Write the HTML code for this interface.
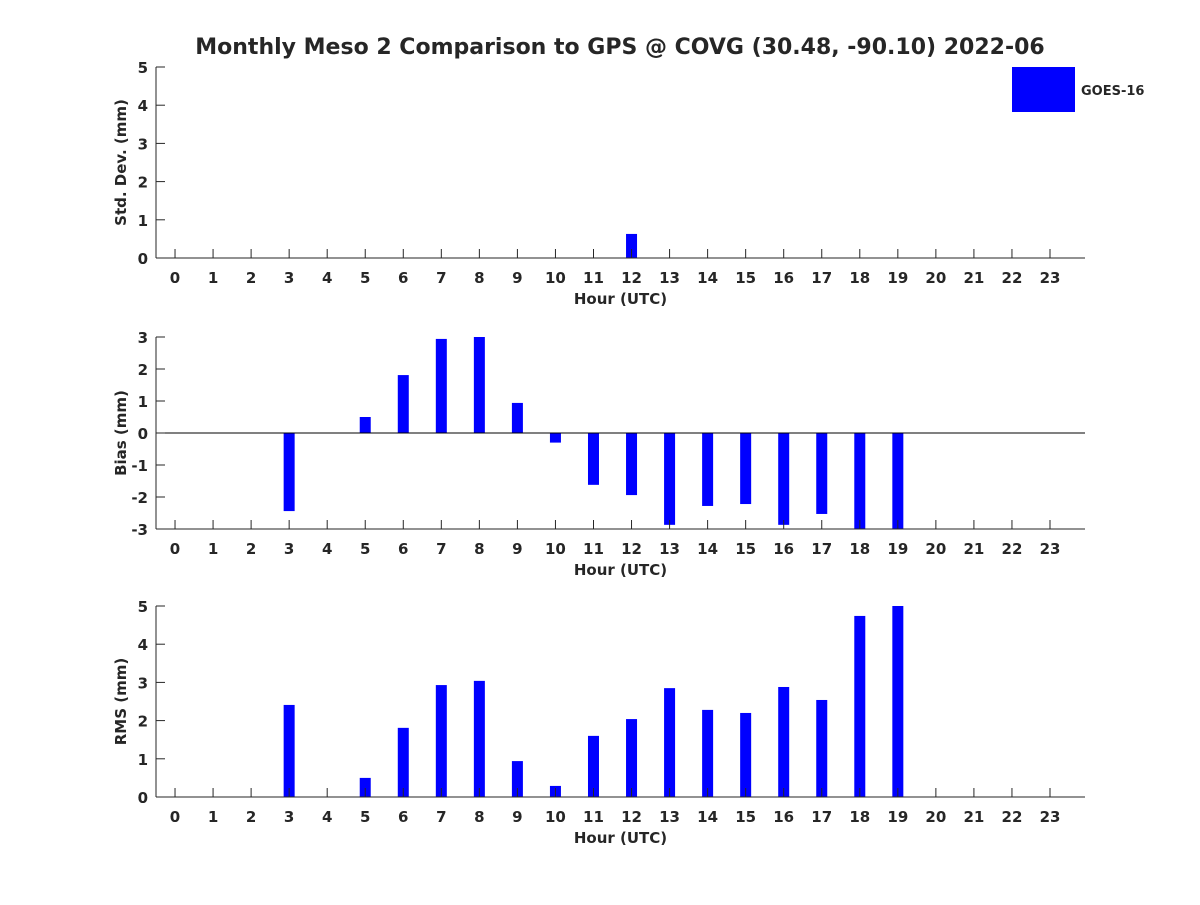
<!DOCTYPE html>
<html><head><meta charset="utf-8"><style>
body{margin:0;background:#fff}
svg text{font-family:"DejaVu Sans","Liberation Sans",sans-serif;font-weight:bold;fill:#262626}
</style></head><body>
<svg id="c" width="1200" height="900" xmlns="http://www.w3.org/2000/svg">
<text x="620" y="54" font-size="22" text-anchor="middle" fill="#000">Monthly Meso 2 Comparison to GPS @ COVG (30.48, -90.10) 2022-06</text>
<rect x="1012" y="67" width="63" height="45" fill="#0000ff"/>
<text x="1081" y="95" font-size="13" fill="#000">GOES-16</text>
</svg>
<script>
const hours = [0,1,2,3,4,5,6,7,8,9,10,11,12,13,14,15,16,17,18,19,20,21,22,23];
const stdValues = [null,null,null,null,null,null,null,null,null,null,null,null,0.63,null,null,null,null,null,null,null,null,null,null,null];
const biasValues = [null,null,null,-2.44,null,0.5,1.81,2.94,3.0,0.94,-0.3,-1.62,-1.94,-2.87,-2.28,-2.22,-2.87,-2.53,-4.74,-5.0,null,null,null,null];
const rmsValues = [null,null,null,2.41,null,0.5,1.81,2.93,3.04,0.94,0.29,1.6,2.04,2.85,2.28,2.2,2.88,2.54,4.74,5.0,null,null,null,null];
const stdTicks = [0,1,2,3,4,5];
const biasTicks = [-3,-2,-1,0,1,2,3];
const rmsTicks = [0,1,2,3,4,5];

const NS='http://www.w3.org/2000/svg';
const svg=document.getElementById('c');
function mk(tag,attrs,parent){const e=document.createElementNS(NS,tag);for(const k in attrs)e.setAttribute(k,attrs[k]);(parent||svg).appendChild(e);return e;}
const L=156,R=1085,xMin=-0.5,xMax=23.92;
function xs(h){return L+(h-xMin)/(xMax-xMin)*(R-L);}
function panel(name,top,bottom,yMin,yMax,ticks,vals,ylabel){
  const g=mk('g',{});
  
  
  const ys=v=>bottom-(v-yMin)/(yMax-yMin)*(bottom-top);
  const clip=v=>Math.max(yMin,Math.min(yMax,v));
  const base=ys(clip(0));
  vals.forEach((v,i)=>{
    if(v===null)return;
    const y=ys(clip(v));
    const r=mk('rect',{x:xs(hours[i])-5.5,y:Math.min(y,base),width:11,height:Math.abs(base-y),fill:'#0000ff'},g);
    
    
  });
  if(yMin<0){const z=mk('line',{x1:L,x2:R,y1:base,y2:base,stroke:'#000','stroke-width':1},g);
    }
  mk('line',{x1:L,x2:L,y1:top,y2:bottom,stroke:'#262626'},g);
  mk('line',{x1:L,x2:R,y1:bottom,y2:bottom,stroke:'#262626'},g);
  ticks.forEach(t=>{
    const y=ys(t);
    mk('line',{x1:L,x2:L+9,y1:y,y2:y,stroke:'#262626'},g);
    const tx=mk('text',{x:L-8,y:y+6,'font-size':15,'text-anchor':'end'},g);tx.textContent=t;
    
  });
  hours.forEach(h=>{
    const x=xs(h);
    mk('line',{x1:x,x2:x,y1:bottom,y2:bottom-9,stroke:'#262626'},g);
    const tx=mk('text',{x:x,y:bottom+25,'font-size':15,'text-anchor':'middle'},g);tx.textContent=h;
    
  });
  const xl=mk('text',{x:(L+R)/2,y:bottom+46,'font-size':15,'text-anchor':'middle'},g);xl.textContent='Hour (UTC)';
  
  const cy=(top+bottom)/2;
  const yl=mk('text',{x:126,y:cy,'font-size':15,'text-anchor':'middle',transform:'rotate(-90 126 '+cy+')'},g);yl.textContent=ylabel;
  
}
panel('std',67,258,0,5,stdTicks,stdValues,'Std. Dev. (mm)');
panel('bias',337,529,-3,3,biasTicks,biasValues,'Bias (mm)');
panel('rms',606,797,0,5,rmsTicks,rmsValues,'RMS (mm)');
</script>
</body></html>
